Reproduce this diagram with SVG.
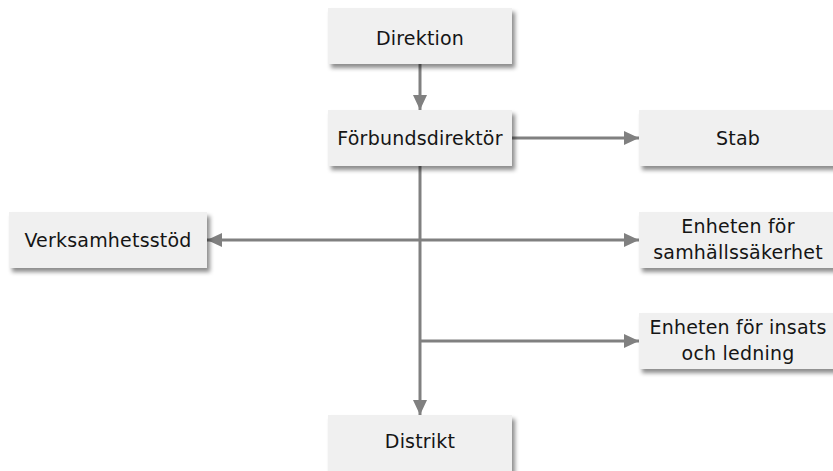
<svg xmlns="http://www.w3.org/2000/svg" width="833" height="471" viewBox="0 0 833 471">
<defs>
<style>
.box{fill:#f0f0f0;filter:url(#sh)}
.lbl{font-family:"DejaVu Sans",sans-serif;font-size:19px;letter-spacing:0.2px;fill:#151515;text-anchor:middle}
.ln{stroke:#808080;stroke-width:3;fill:none}
</style>
<filter id="sh" x="-10%" y="-20%" width="130%" height="160%">
<feDropShadow dx="3" dy="4" stdDeviation="2" flood-color="#000" flood-opacity="0.45"/>
</filter>
<marker id="ah" viewBox="0 0 15 14" refX="15" refY="7" markerWidth="15" markerHeight="14" markerUnits="userSpaceOnUse" orient="auto">
<path d="M0,0 L15,7 L0,14 Z" fill="#808080"/>
</marker>
</defs>
<rect width="833" height="471" fill="#fff"/>
<g id="connectors">
<path class="ln" d="M420,64 V110" marker-end="url(#ah)"/>
<path class="ln" d="M512,138 H639" marker-end="url(#ah)"/>
<path class="ln" d="M420,166 V415" marker-end="url(#ah)"/>
<path class="ln" d="M420,240 H207" marker-end="url(#ah)"/>
<path class="ln" d="M420,240 H639" marker-end="url(#ah)"/>
<path class="ln" d="M420,341 H639" marker-end="url(#ah)"/>
</g>
<g id="direktion"><rect class="box" x="328" y="8" width="184" height="56"/><text class="lbl" x="420" y="45">Direktion</text></g>
<g id="forbundsdirektor"><rect class="box" x="328" y="110" width="184" height="56"/><text class="lbl" x="420" y="145">Förbundsdirektör</text></g>
<g id="stab"><rect class="box" x="639" y="110" width="198" height="56"/><text class="lbl" x="738" y="145">Stab</text></g>
<g id="verksamhetsstod"><rect class="box" x="9" y="212" width="198" height="56"/><text class="lbl" x="108" y="247">Verksamhetsstöd</text></g>
<g id="samhallssakerhet"><rect class="box" x="639" y="212" width="198" height="56"/><text class="lbl" x="738" y="233">Enheten för</text><text class="lbl" x="738" y="259">samhällssäkerhet</text></g>
<g id="insats"><rect class="box" x="639" y="313" width="198" height="56"/><text class="lbl" x="738" y="334">Enheten för insats</text><text class="lbl" x="738" y="360">och ledning</text></g>
<g id="distrikt"><rect class="box" x="328" y="415" width="184" height="60"/><text class="lbl" x="420" y="448">Distrikt</text></g>
</svg>
